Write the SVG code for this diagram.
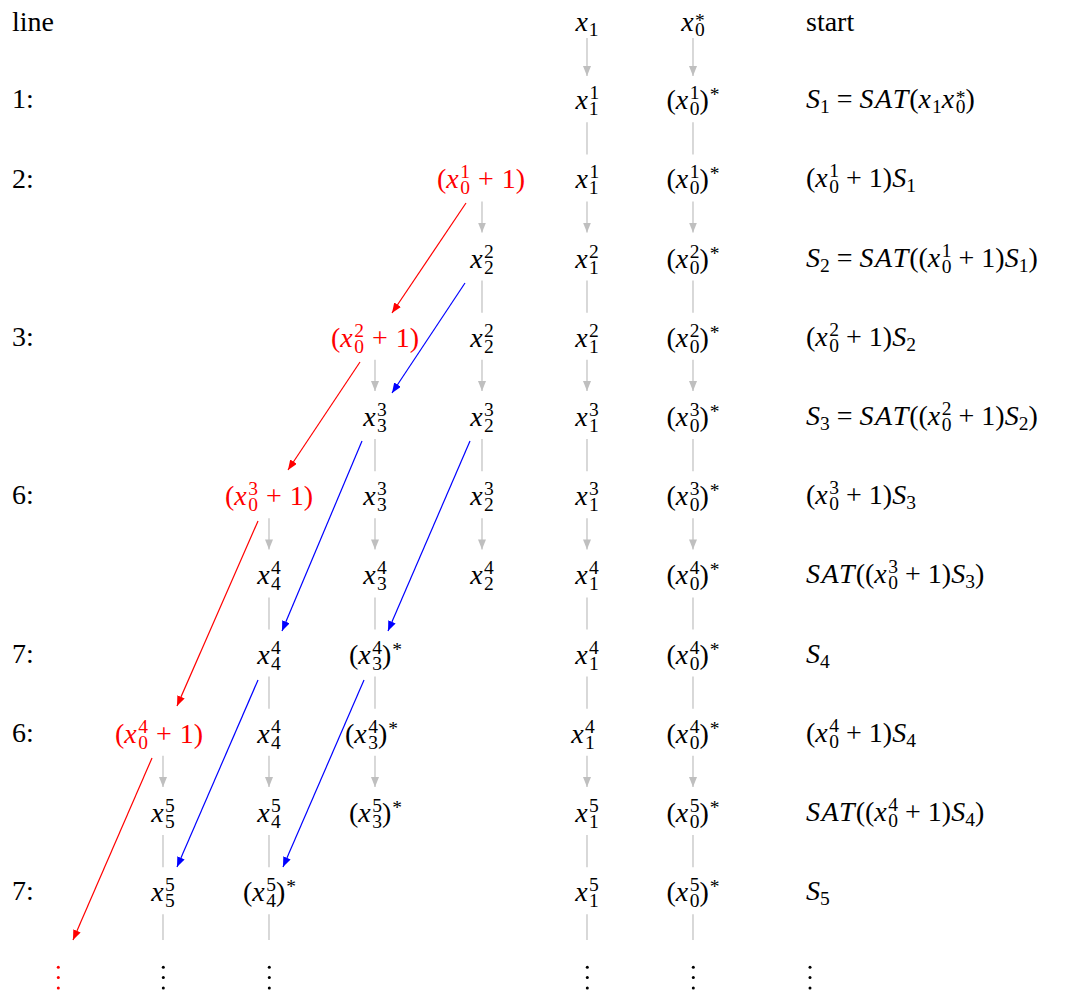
<svg xmlns="http://www.w3.org/2000/svg" width="1069" height="991" viewBox="0 0 1069 991">
<defs>
<marker id="mg" markerUnits="userSpaceOnUse" markerWidth="10" markerHeight="8" refX="10" refY="4" orient="auto"><path d="M0,0 L10,4 L0,8 z" fill="#bfbfbf"/></marker>
<marker id="mr" markerUnits="userSpaceOnUse" markerWidth="10" markerHeight="8" refX="10" refY="4" orient="auto"><path d="M0,0 L10,4 L0,8 z" fill="#ff0000"/></marker>
<marker id="mb" markerUnits="userSpaceOnUse" markerWidth="10" markerHeight="8" refX="10" refY="4" orient="auto"><path d="M0,0 L10,4 L0,8 z" fill="#0000ff"/></marker>
</defs>
<rect width="1069" height="991" fill="#fff"/>

<g id="connectors" fill="none" stroke-width="1.2">
<g stroke="#bfbfbf" marker-end="url(#mg)">
<path d="M587,38 V76"/><path d="M587,201.4 V232.6"/><path d="M587,359.8 V391"/><path d="M587,518.2 V549.4"/><path d="M587,755.8 V787"/>
<path d="M693,38 V76"/><path d="M693,201.4 V232.6"/><path d="M693,359.8 V391"/><path d="M693,518.2 V549.4"/><path d="M693,755.8 V787"/>
<path d="M482,201.4 V232.6"/><path d="M482,359.8 V391"/><path d="M482,518.2 V549.4"/>
<path d="M375,359.8 V391"/><path d="M375,518.2 V549.4"/><path d="M375,755.8 V787"/>
<path d="M269,518.2 V549.4"/><path d="M269,755.8 V787"/>
<path d="M163,755.8 V787"/>
</g>
<g stroke="#bfbfbf">
<path d="M587,122.2 V154.4"/><path d="M587,280.6 V312.8"/><path d="M587,439 V471.2"/><path d="M587,597.4 V629.6"/><path d="M587,676.6 V708.8"/><path d="M587,835 V867.2"/><path d="M587,914.2 V940"/>
<path d="M693,122.2 V154.4"/><path d="M693,280.6 V312.8"/><path d="M693,439 V471.2"/><path d="M693,597.4 V629.6"/><path d="M693,676.6 V708.8"/><path d="M693,835 V867.2"/><path d="M693,914.2 V940"/>
<path d="M482,280.6 V312.8"/><path d="M482,439 V471.2"/>
<path d="M375,439 V471.2"/><path d="M375,597.4 V629.6"/><path d="M375,676.6 V708.8"/>
<path d="M269,597.4 V629.6"/><path d="M269,676.6 V708.8"/><path d="M269,835 V867.2"/><path d="M269,914.2 V940"/>
<path d="M163,835 V867.2"/><path d="M163,914.2 V940"/>
</g>
<g stroke="#ff0000" marker-end="url(#mr)">
<path d="M466,203 L392,313"/><path d="M360,362 L288,470"/><path d="M258,521 L177,706"/><path d="M152,758 L73,940"/>
</g>
<g stroke="#0000ff" marker-end="url(#mb)">
<path d="M465,283 L392,393"/><path d="M362,441 L282,631"/><path d="M470,441 L388,631"/><path d="M258,680 L177,867"/><path d="M364,680 L283,867"/>
</g>
</g>

<g id="labels">
<text font-family="Liberation Serif" font-size="28" x="12" y="30.5">line</text>
<text font-family="Liberation Serif" font-size="28" x="12" y="108">1:</text>
<text font-family="Liberation Serif" font-size="28" x="12" y="187.5">2:</text>
<text font-family="Liberation Serif" font-size="28" x="12" y="346">3:</text>
<text font-family="Liberation Serif" font-size="28" x="12" y="504">6:</text>
<text font-family="Liberation Serif" font-size="28" x="12" y="663">7:</text>
<text font-family="Liberation Serif" font-size="28" x="12" y="742">6:</text>
<text font-family="Liberation Serif" font-size="28" x="12" y="900">7:</text>
</g>

<g id="row0">
<text font-family="Liberation Serif" font-size="28" text-anchor="middle" x="587" y="31"><tspan font-style="italic">x</tspan><tspan font-size="19.5" dx="1" dy="5">1</tspan></text>
<text font-family="Liberation Serif" font-size="28" text-anchor="middle" x="693" y="31"><tspan font-style="italic">x</tspan><tspan font-size="19.5" dx="1.5" dy="5">0</tspan><tspan font-size="19.5" dx="-9.75" dy="-9">*</tspan></text>
<text font-family="Liberation Serif" font-size="28" x="806" y="30.5">start</text>
</g>

<g id="row1">
<text font-family="Liberation Serif" font-size="28" text-anchor="middle" x="587" y="109.2"><tspan font-style="italic">x</tspan><tspan font-size="19.5" dx="1.5" dy="-10">1</tspan><tspan font-size="19.5" dx="-9.75" dy="16">1</tspan></text>
<text font-family="Liberation Serif" font-size="28" text-anchor="middle" x="693" y="109.2">(<tspan font-style="italic">x</tspan><tspan font-size="19.5" dx="1.5" dy="-10">1</tspan><tspan font-size="19.5" dx="-9.75" dy="16">0</tspan><tspan dy="-6">)</tspan><tspan font-size="19.5" dx="1" dy="-8">*</tspan></text>
<text font-family="Liberation Serif" font-size="28" x="806" y="108.2"><tspan font-style="italic">S</tspan><tspan font-size="19.5" dy="5">1</tspan><tspan dx="7" dy="-5">=</tspan><tspan font-style="italic" dx="7">S</tspan><tspan font-style="italic" dx="1.5">A</tspan><tspan font-style="italic" dx="1.5">T</tspan><tspan dx="1">(</tspan><tspan font-style="italic">x</tspan><tspan font-size="19.5" dx="1" dy="5">1</tspan><tspan font-style="italic" dy="-5">x</tspan><tspan font-size="19.5" dx="1.5" dy="5">0</tspan><tspan font-size="19.5" dx="-9.75" dy="-9">*</tspan><tspan dy="4">)</tspan></text>
</g>

<g id="row2">
<text font-family="Liberation Serif" font-size="28" text-anchor="middle" fill="#ff0000" x="481" y="188.4">(<tspan font-style="italic">x</tspan><tspan font-size="19.5" dx="1.5" dy="-10">1</tspan><tspan font-size="19.5" dx="-9.75" dy="16">0</tspan><tspan dx="8" dy="-6">+</tspan><tspan dx="8">1)</tspan></text>
<text font-family="Liberation Serif" font-size="28" text-anchor="middle" x="587" y="188.4"><tspan font-style="italic">x</tspan><tspan font-size="19.5" dx="1.5" dy="-10">1</tspan><tspan font-size="19.5" dx="-9.75" dy="16">1</tspan></text>
<text font-family="Liberation Serif" font-size="28" text-anchor="middle" x="693" y="188.4">(<tspan font-style="italic">x</tspan><tspan font-size="19.5" dx="1.5" dy="-10">1</tspan><tspan font-size="19.5" dx="-9.75" dy="16">0</tspan><tspan dy="-6">)</tspan><tspan font-size="19.5" dx="1" dy="-8">*</tspan></text>
<text font-family="Liberation Serif" font-size="28" x="806" y="187.4">(<tspan font-style="italic">x</tspan><tspan font-size="19.5" dx="1.5" dy="-10">1</tspan><tspan font-size="19.5" dx="-9.75" dy="16">0</tspan><tspan dx="7" dy="-6">+</tspan><tspan dx="7">1)</tspan><tspan font-style="italic">S</tspan><tspan font-size="19.5" dy="5">1</tspan></text>
</g>

<g id="row3">
<text font-family="Liberation Serif" font-size="28" text-anchor="middle" x="482" y="267.6"><tspan font-style="italic">x</tspan><tspan font-size="19.5" dx="1.5" dy="-10">2</tspan><tspan font-size="19.5" dx="-9.75" dy="16">2</tspan></text>
<text font-family="Liberation Serif" font-size="28" text-anchor="middle" x="587" y="267.6"><tspan font-style="italic">x</tspan><tspan font-size="19.5" dx="1.5" dy="-10">2</tspan><tspan font-size="19.5" dx="-9.75" dy="16">1</tspan></text>
<text font-family="Liberation Serif" font-size="28" text-anchor="middle" x="693" y="267.6">(<tspan font-style="italic">x</tspan><tspan font-size="19.5" dx="1.5" dy="-10">2</tspan><tspan font-size="19.5" dx="-9.75" dy="16">0</tspan><tspan dy="-6">)</tspan><tspan font-size="19.5" dx="1" dy="-8">*</tspan></text>
<text font-family="Liberation Serif" font-size="28" x="806" y="266.6"><tspan font-style="italic">S</tspan><tspan font-size="19.5" dy="5">2</tspan><tspan dx="7" dy="-5">=</tspan><tspan font-style="italic" dx="7">S</tspan><tspan font-style="italic" dx="1.5">A</tspan><tspan font-style="italic" dx="1.5">T</tspan><tspan dx="1">((</tspan><tspan font-style="italic">x</tspan><tspan font-size="19.5" dx="1.5" dy="-10">1</tspan><tspan font-size="19.5" dx="-9.75" dy="16">0</tspan><tspan dx="7" dy="-6">+</tspan><tspan dx="7">1)</tspan><tspan font-style="italic">S</tspan><tspan font-size="19.5" dy="5">1</tspan><tspan dy="-5">)</tspan></text>
</g>

<g id="row4">
<text font-family="Liberation Serif" font-size="28" text-anchor="middle" fill="#ff0000" x="375" y="346.8">(<tspan font-style="italic">x</tspan><tspan font-size="19.5" dx="1.5" dy="-10">2</tspan><tspan font-size="19.5" dx="-9.75" dy="16">0</tspan><tspan dx="8" dy="-6">+</tspan><tspan dx="8">1)</tspan></text>
<text font-family="Liberation Serif" font-size="28" text-anchor="middle" x="482" y="346.8"><tspan font-style="italic">x</tspan><tspan font-size="19.5" dx="1.5" dy="-10">2</tspan><tspan font-size="19.5" dx="-9.75" dy="16">2</tspan></text>
<text font-family="Liberation Serif" font-size="28" text-anchor="middle" x="587" y="346.8"><tspan font-style="italic">x</tspan><tspan font-size="19.5" dx="1.5" dy="-10">2</tspan><tspan font-size="19.5" dx="-9.75" dy="16">1</tspan></text>
<text font-family="Liberation Serif" font-size="28" text-anchor="middle" x="693" y="346.8">(<tspan font-style="italic">x</tspan><tspan font-size="19.5" dx="1.5" dy="-10">2</tspan><tspan font-size="19.5" dx="-9.75" dy="16">0</tspan><tspan dy="-6">)</tspan><tspan font-size="19.5" dx="1" dy="-8">*</tspan></text>
<text font-family="Liberation Serif" font-size="28" x="806" y="345.8">(<tspan font-style="italic">x</tspan><tspan font-size="19.5" dx="1.5" dy="-10">2</tspan><tspan font-size="19.5" dx="-9.75" dy="16">0</tspan><tspan dx="7" dy="-6">+</tspan><tspan dx="7">1)</tspan><tspan font-style="italic">S</tspan><tspan font-size="19.5" dy="5">2</tspan></text>
</g>

<g id="row5">
<text font-family="Liberation Serif" font-size="28" text-anchor="middle" x="375" y="426"><tspan font-style="italic">x</tspan><tspan font-size="19.5" dx="1.5" dy="-10">3</tspan><tspan font-size="19.5" dx="-9.75" dy="16">3</tspan></text>
<text font-family="Liberation Serif" font-size="28" text-anchor="middle" x="482" y="426"><tspan font-style="italic">x</tspan><tspan font-size="19.5" dx="1.5" dy="-10">3</tspan><tspan font-size="19.5" dx="-9.75" dy="16">2</tspan></text>
<text font-family="Liberation Serif" font-size="28" text-anchor="middle" x="587" y="426"><tspan font-style="italic">x</tspan><tspan font-size="19.5" dx="1.5" dy="-10">3</tspan><tspan font-size="19.5" dx="-9.75" dy="16">1</tspan></text>
<text font-family="Liberation Serif" font-size="28" text-anchor="middle" x="693" y="426">(<tspan font-style="italic">x</tspan><tspan font-size="19.5" dx="1.5" dy="-10">3</tspan><tspan font-size="19.5" dx="-9.75" dy="16">0</tspan><tspan dy="-6">)</tspan><tspan font-size="19.5" dx="1" dy="-8">*</tspan></text>
<text font-family="Liberation Serif" font-size="28" x="806" y="425"><tspan font-style="italic">S</tspan><tspan font-size="19.5" dy="5">3</tspan><tspan dx="7" dy="-5">=</tspan><tspan font-style="italic" dx="7">S</tspan><tspan font-style="italic" dx="1.5">A</tspan><tspan font-style="italic" dx="1.5">T</tspan><tspan dx="1">((</tspan><tspan font-style="italic">x</tspan><tspan font-size="19.5" dx="1.5" dy="-10">2</tspan><tspan font-size="19.5" dx="-9.75" dy="16">0</tspan><tspan dx="7" dy="-6">+</tspan><tspan dx="7">1)</tspan><tspan font-style="italic">S</tspan><tspan font-size="19.5" dy="5">2</tspan><tspan dy="-5">)</tspan></text>
</g>

<g id="row6">
<text font-family="Liberation Serif" font-size="28" text-anchor="middle" fill="#ff0000" x="269" y="505.2">(<tspan font-style="italic">x</tspan><tspan font-size="19.5" dx="1.5" dy="-10">3</tspan><tspan font-size="19.5" dx="-9.75" dy="16">0</tspan><tspan dx="8" dy="-6">+</tspan><tspan dx="8">1)</tspan></text>
<text font-family="Liberation Serif" font-size="28" text-anchor="middle" x="375" y="505.2"><tspan font-style="italic">x</tspan><tspan font-size="19.5" dx="1.5" dy="-10">3</tspan><tspan font-size="19.5" dx="-9.75" dy="16">3</tspan></text>
<text font-family="Liberation Serif" font-size="28" text-anchor="middle" x="482" y="505.2"><tspan font-style="italic">x</tspan><tspan font-size="19.5" dx="1.5" dy="-10">3</tspan><tspan font-size="19.5" dx="-9.75" dy="16">2</tspan></text>
<text font-family="Liberation Serif" font-size="28" text-anchor="middle" x="587" y="505.2"><tspan font-style="italic">x</tspan><tspan font-size="19.5" dx="1.5" dy="-10">3</tspan><tspan font-size="19.5" dx="-9.75" dy="16">1</tspan></text>
<text font-family="Liberation Serif" font-size="28" text-anchor="middle" x="693" y="505.2">(<tspan font-style="italic">x</tspan><tspan font-size="19.5" dx="1.5" dy="-10">3</tspan><tspan font-size="19.5" dx="-9.75" dy="16">0</tspan><tspan dy="-6">)</tspan><tspan font-size="19.5" dx="1" dy="-8">*</tspan></text>
<text font-family="Liberation Serif" font-size="28" x="806" y="504.2">(<tspan font-style="italic">x</tspan><tspan font-size="19.5" dx="1.5" dy="-10">3</tspan><tspan font-size="19.5" dx="-9.75" dy="16">0</tspan><tspan dx="7" dy="-6">+</tspan><tspan dx="7">1)</tspan><tspan font-style="italic">S</tspan><tspan font-size="19.5" dy="5">3</tspan></text>
</g>

<g id="row7">
<text font-family="Liberation Serif" font-size="28" text-anchor="middle" x="269" y="584.4"><tspan font-style="italic">x</tspan><tspan font-size="19.5" dx="1.5" dy="-10">4</tspan><tspan font-size="19.5" dx="-9.75" dy="16">4</tspan></text>
<text font-family="Liberation Serif" font-size="28" text-anchor="middle" x="375" y="584.4"><tspan font-style="italic">x</tspan><tspan font-size="19.5" dx="1.5" dy="-10">4</tspan><tspan font-size="19.5" dx="-9.75" dy="16">3</tspan></text>
<text font-family="Liberation Serif" font-size="28" text-anchor="middle" x="482" y="584.4"><tspan font-style="italic">x</tspan><tspan font-size="19.5" dx="1.5" dy="-10">4</tspan><tspan font-size="19.5" dx="-9.75" dy="16">2</tspan></text>
<text font-family="Liberation Serif" font-size="28" text-anchor="middle" x="587" y="584.4"><tspan font-style="italic">x</tspan><tspan font-size="19.5" dx="1.5" dy="-10">4</tspan><tspan font-size="19.5" dx="-9.75" dy="16">1</tspan></text>
<text font-family="Liberation Serif" font-size="28" text-anchor="middle" x="693" y="584.4">(<tspan font-style="italic">x</tspan><tspan font-size="19.5" dx="1.5" dy="-10">4</tspan><tspan font-size="19.5" dx="-9.75" dy="16">0</tspan><tspan dy="-6">)</tspan><tspan font-size="19.5" dx="1" dy="-8">*</tspan></text>
<text font-family="Liberation Serif" font-size="28" x="806" y="583.4"><tspan font-style="italic">S</tspan><tspan font-style="italic" dx="1.5">A</tspan><tspan font-style="italic" dx="1.5">T</tspan><tspan dx="1">((</tspan><tspan font-style="italic">x</tspan><tspan font-size="19.5" dx="1.5" dy="-10">3</tspan><tspan font-size="19.5" dx="-9.75" dy="16">0</tspan><tspan dx="7" dy="-6">+</tspan><tspan dx="7">1)</tspan><tspan font-style="italic">S</tspan><tspan font-size="19.5" dy="5">3</tspan><tspan dy="-5">)</tspan></text>
</g>

<g id="row8">
<text font-family="Liberation Serif" font-size="28" text-anchor="middle" x="269" y="663.6"><tspan font-style="italic">x</tspan><tspan font-size="19.5" dx="1.5" dy="-10">4</tspan><tspan font-size="19.5" dx="-9.75" dy="16">4</tspan></text>
<text font-family="Liberation Serif" font-size="28" text-anchor="middle" x="375.5" y="663.6">(<tspan font-style="italic">x</tspan><tspan font-size="19.5" dx="1.5" dy="-10">4</tspan><tspan font-size="19.5" dx="-9.75" dy="16">3</tspan><tspan dy="-6">)</tspan><tspan font-size="19.5" dx="1" dy="-8">*</tspan></text>
<text font-family="Liberation Serif" font-size="28" text-anchor="middle" x="587" y="663.6"><tspan font-style="italic">x</tspan><tspan font-size="19.5" dx="1.5" dy="-10">4</tspan><tspan font-size="19.5" dx="-9.75" dy="16">1</tspan></text>
<text font-family="Liberation Serif" font-size="28" text-anchor="middle" x="693" y="663.6">(<tspan font-style="italic">x</tspan><tspan font-size="19.5" dx="1.5" dy="-10">4</tspan><tspan font-size="19.5" dx="-9.75" dy="16">0</tspan><tspan dy="-6">)</tspan><tspan font-size="19.5" dx="1" dy="-8">*</tspan></text>
<text font-family="Liberation Serif" font-size="28" x="806" y="662.6"><tspan font-style="italic">S</tspan><tspan font-size="19.5" dy="5">4</tspan></text>
</g>

<g id="row9">
<text font-family="Liberation Serif" font-size="28" text-anchor="middle" fill="#ff0000" x="159" y="742.8">(<tspan font-style="italic">x</tspan><tspan font-size="19.5" dx="1.5" dy="-10">4</tspan><tspan font-size="19.5" dx="-9.75" dy="16">0</tspan><tspan dx="8" dy="-6">+</tspan><tspan dx="8">1)</tspan></text>
<text font-family="Liberation Serif" font-size="28" text-anchor="middle" x="269" y="742.8"><tspan font-style="italic">x</tspan><tspan font-size="19.5" dx="1.5" dy="-10">4</tspan><tspan font-size="19.5" dx="-9.75" dy="16">4</tspan></text>
<text font-family="Liberation Serif" font-size="28" text-anchor="middle" x="371.5" y="742.8">(<tspan font-style="italic">x</tspan><tspan font-size="19.5" dx="1.5" dy="-10">4</tspan><tspan font-size="19.5" dx="-9.75" dy="16">3</tspan><tspan dy="-6">)</tspan><tspan font-size="19.5" dx="1" dy="-8">*</tspan></text>
<text font-family="Liberation Serif" font-size="28" text-anchor="middle" x="583" y="742.8"><tspan font-style="italic">x</tspan><tspan font-size="19.5" dx="1.5" dy="-10">4</tspan><tspan font-size="19.5" dx="-9.75" dy="16">1</tspan></text>
<text font-family="Liberation Serif" font-size="28" text-anchor="middle" x="693" y="742.8">(<tspan font-style="italic">x</tspan><tspan font-size="19.5" dx="1.5" dy="-10">4</tspan><tspan font-size="19.5" dx="-9.75" dy="16">0</tspan><tspan dy="-6">)</tspan><tspan font-size="19.5" dx="1" dy="-8">*</tspan></text>
<text font-family="Liberation Serif" font-size="28" x="806" y="741.8">(<tspan font-style="italic">x</tspan><tspan font-size="19.5" dx="1.5" dy="-10">4</tspan><tspan font-size="19.5" dx="-9.75" dy="16">0</tspan><tspan dx="7" dy="-6">+</tspan><tspan dx="7">1)</tspan><tspan font-style="italic">S</tspan><tspan font-size="19.5" dy="5">4</tspan></text>
</g>

<g id="row10">
<text font-family="Liberation Serif" font-size="28" text-anchor="middle" x="163" y="822"><tspan font-style="italic">x</tspan><tspan font-size="19.5" dx="1.5" dy="-10">5</tspan><tspan font-size="19.5" dx="-9.75" dy="16">5</tspan></text>
<text font-family="Liberation Serif" font-size="28" text-anchor="middle" x="269" y="822"><tspan font-style="italic">x</tspan><tspan font-size="19.5" dx="1.5" dy="-10">5</tspan><tspan font-size="19.5" dx="-9.75" dy="16">4</tspan></text>
<text font-family="Liberation Serif" font-size="28" text-anchor="middle" x="375.5" y="822">(<tspan font-style="italic">x</tspan><tspan font-size="19.5" dx="1.5" dy="-10">5</tspan><tspan font-size="19.5" dx="-9.75" dy="16">3</tspan><tspan dy="-6">)</tspan><tspan font-size="19.5" dx="1" dy="-8">*</tspan></text>
<text font-family="Liberation Serif" font-size="28" text-anchor="middle" x="587" y="822"><tspan font-style="italic">x</tspan><tspan font-size="19.5" dx="1.5" dy="-10">5</tspan><tspan font-size="19.5" dx="-9.75" dy="16">1</tspan></text>
<text font-family="Liberation Serif" font-size="28" text-anchor="middle" x="693" y="822">(<tspan font-style="italic">x</tspan><tspan font-size="19.5" dx="1.5" dy="-10">5</tspan><tspan font-size="19.5" dx="-9.75" dy="16">0</tspan><tspan dy="-6">)</tspan><tspan font-size="19.5" dx="1" dy="-8">*</tspan></text>
<text font-family="Liberation Serif" font-size="28" x="806" y="821"><tspan font-style="italic">S</tspan><tspan font-style="italic" dx="1.5">A</tspan><tspan font-style="italic" dx="1.5">T</tspan><tspan dx="1">((</tspan><tspan font-style="italic">x</tspan><tspan font-size="19.5" dx="1.5" dy="-10">4</tspan><tspan font-size="19.5" dx="-9.75" dy="16">0</tspan><tspan dx="7" dy="-6">+</tspan><tspan dx="7">1)</tspan><tspan font-style="italic">S</tspan><tspan font-size="19.5" dy="5">4</tspan><tspan dy="-5">)</tspan></text>
</g>

<g id="row11">
<text font-family="Liberation Serif" font-size="28" text-anchor="middle" x="163" y="901.2"><tspan font-style="italic">x</tspan><tspan font-size="19.5" dx="1.5" dy="-10">5</tspan><tspan font-size="19.5" dx="-9.75" dy="16">5</tspan></text>
<text font-family="Liberation Serif" font-size="28" text-anchor="middle" x="269.5" y="901.2">(<tspan font-style="italic">x</tspan><tspan font-size="19.5" dx="1.5" dy="-10">5</tspan><tspan font-size="19.5" dx="-9.75" dy="16">4</tspan><tspan dy="-6">)</tspan><tspan font-size="19.5" dx="1" dy="-8">*</tspan></text>
<text font-family="Liberation Serif" font-size="28" text-anchor="middle" x="587" y="901.2"><tspan font-style="italic">x</tspan><tspan font-size="19.5" dx="1.5" dy="-10">5</tspan><tspan font-size="19.5" dx="-9.75" dy="16">1</tspan></text>
<text font-family="Liberation Serif" font-size="28" text-anchor="middle" x="693" y="901.2">(<tspan font-style="italic">x</tspan><tspan font-size="19.5" dx="1.5" dy="-10">5</tspan><tspan font-size="19.5" dx="-9.75" dy="16">0</tspan><tspan dy="-6">)</tspan><tspan font-size="19.5" dx="1" dy="-8">*</tspan></text>
<text font-family="Liberation Serif" font-size="28" x="806" y="900.2"><tspan font-style="italic">S</tspan><tspan font-size="19.5" dy="5">5</tspan></text>
</g>

<g id="row12-dots">
<g fill="#ff0000"><circle cx="58.3" cy="967.3" r="1.5"/><circle cx="58.3" cy="977.6" r="1.5"/><circle cx="58.3" cy="987.9" r="1.5"/></g>
<g fill="#000">
<circle cx="163.3" cy="967.3" r="1.5"/><circle cx="163.3" cy="977.6" r="1.5"/><circle cx="163.3" cy="987.9" r="1.5"/>
<circle cx="269.3" cy="967.3" r="1.5"/><circle cx="269.3" cy="977.6" r="1.5"/><circle cx="269.3" cy="987.9" r="1.5"/>
<circle cx="587.3" cy="967.3" r="1.5"/><circle cx="587.3" cy="977.6" r="1.5"/><circle cx="587.3" cy="987.9" r="1.5"/>
<circle cx="693.3" cy="967.3" r="1.5"/><circle cx="693.3" cy="977.6" r="1.5"/><circle cx="693.3" cy="987.9" r="1.5"/>
<circle cx="810" cy="967.3" r="1.5"/><circle cx="810" cy="977.6" r="1.5"/><circle cx="810" cy="987.9" r="1.5"/>
</g>
</g>
</svg>
